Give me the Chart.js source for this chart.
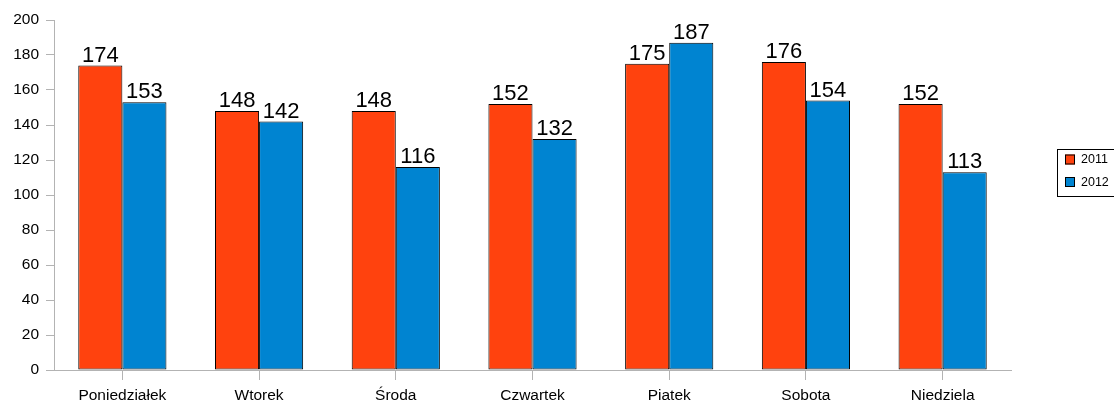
<!DOCTYPE html>
<html>
<head>
<meta charset="utf-8">
<script src="https://cdn.jsdelivr.net/npm/chart.js@4/dist/chart.umd.min.js"></script>
<style>
  html, body { margin: 0; padding: 0; background: #fff; }
  #wrap { width: 1114px; height: 403px; position: relative; }
</style>
</head>
<body>
<div id="wrap"><canvas id="c" width="1114" height="403"></canvas></div>
<script>
const categories = ["Poniedziałek", "Wtorek", "Środa", "Czwartek", "Piatek", "Sobota", "Niedziela"];
const seriesNames = ["2011", "2012"];
const values2011 = [174, 148, 148, 152, 175, 176, 152];
const values2012 = [153, 142, 116, 132, 187, 154, 113];
const seriesColors = ["#ff420e", "#0084d1"];
const yTicks = [0, 20, 40, 60, 80, 100, 120, 140, 160, 180, 200];

const FONT = "'Liberation Sans', Arial, sans-serif";

const valueLabels = {
  id: 'valueLabels',
  afterDatasetsDraw(chart) {
    const ctx = chart.ctx;
    ctx.save();
    ctx.font = "22px " + FONT;
    ctx.fillStyle = "#000";
    ctx.textAlign = "center";
    ctx.textBaseline = "alphabetic";
    chart.data.datasets.forEach((ds, i) => {
      const meta = chart.getDatasetMeta(i);
      meta.data.forEach((bar, j) => {
        ctx.fillText(String(ds.data[j]), bar.x, bar.y - 4);
      });
    });
    ctx.restore();
  }
};

const boxLegend = {
  id: 'boxLegend',
  afterDraw(chart) {
    const ctx = chart.ctx;
    ctx.save();
    const x0 = 1057.5, y0 = 149.5, w = 57, h = 47;
    ctx.strokeStyle = "#000";
    ctx.lineWidth = 1;
    ctx.strokeRect(x0, y0, w, h);
    ctx.font = "12.5px " + FONT;
    ctx.textBaseline = "middle";
    ctx.textAlign = "left";
    chart.data.datasets.forEach((ds, i) => {
      const cy = 159.5 + i * 22.5;
      ctx.fillStyle = ds.backgroundColor;
      ctx.fillRect(1065, cy - 5, 10, 10);
      ctx.strokeStyle = "#000";
      ctx.strokeRect(1065.5, cy - 4.5, 9, 9);
      ctx.fillStyle = "#000";
      ctx.fillText(ds.label, 1081, cy + 0.5);
    });
    ctx.restore();
  }
};

new Chart(document.getElementById('c'), {
  type: 'bar',
  data: {
    labels: categories,
    datasets: [
      { label: seriesNames[0], data: values2011, backgroundColor: seriesColors[0], borderColor: "#000", borderWidth: 1, borderSkipped: false, categoryPercentage: 0.645, barPercentage: 1.0 },
      { label: seriesNames[1], data: values2012, backgroundColor: seriesColors[1], borderColor: "#000", borderWidth: 1, borderSkipped: false, categoryPercentage: 0.645, barPercentage: 1.0 }
    ]
  },
  options: {
    responsive: false,
    animation: false,
    devicePixelRatio: 1,
    layout: { padding: { left: 0, right: 103, top: 20, bottom: 0 } },
    plugins: { legend: { display: false }, tooltip: { enabled: false } },
    scales: {
      x: {
        offset: true,
        grid: { display: true, offset: false, drawOnChartArea: false, drawTicks: true, tickLength: 10, color: "#b3b3b3" },
        border: { display: true, color: "#b3b3b3" },
        ticks: { color: "#000", font: { family: FONT, size: 15.5 }, padding: 6, maxRotation: 0, autoSkip: false },
        afterFit(scale) { scale.height = 33; }
      },
      y: {
        min: 0, max: 200,
        afterBuildTicks(scale) { scale.ticks = yTicks.map(v => ({ value: v })); },
        grid: { display: true, drawOnChartArea: false, drawTicks: true, tickLength: 8, color: "#b3b3b3" },
        border: { display: true, color: "#b3b3b3" },
        ticks: { color: "#000", font: { family: FONT, size: 15.5 }, padding: 7 },
        afterFit(scale) { scale.width = 54; }
      }
    }
  },
  plugins: [valueLabels, boxLegend]
});
</script>
</body>
</html>
